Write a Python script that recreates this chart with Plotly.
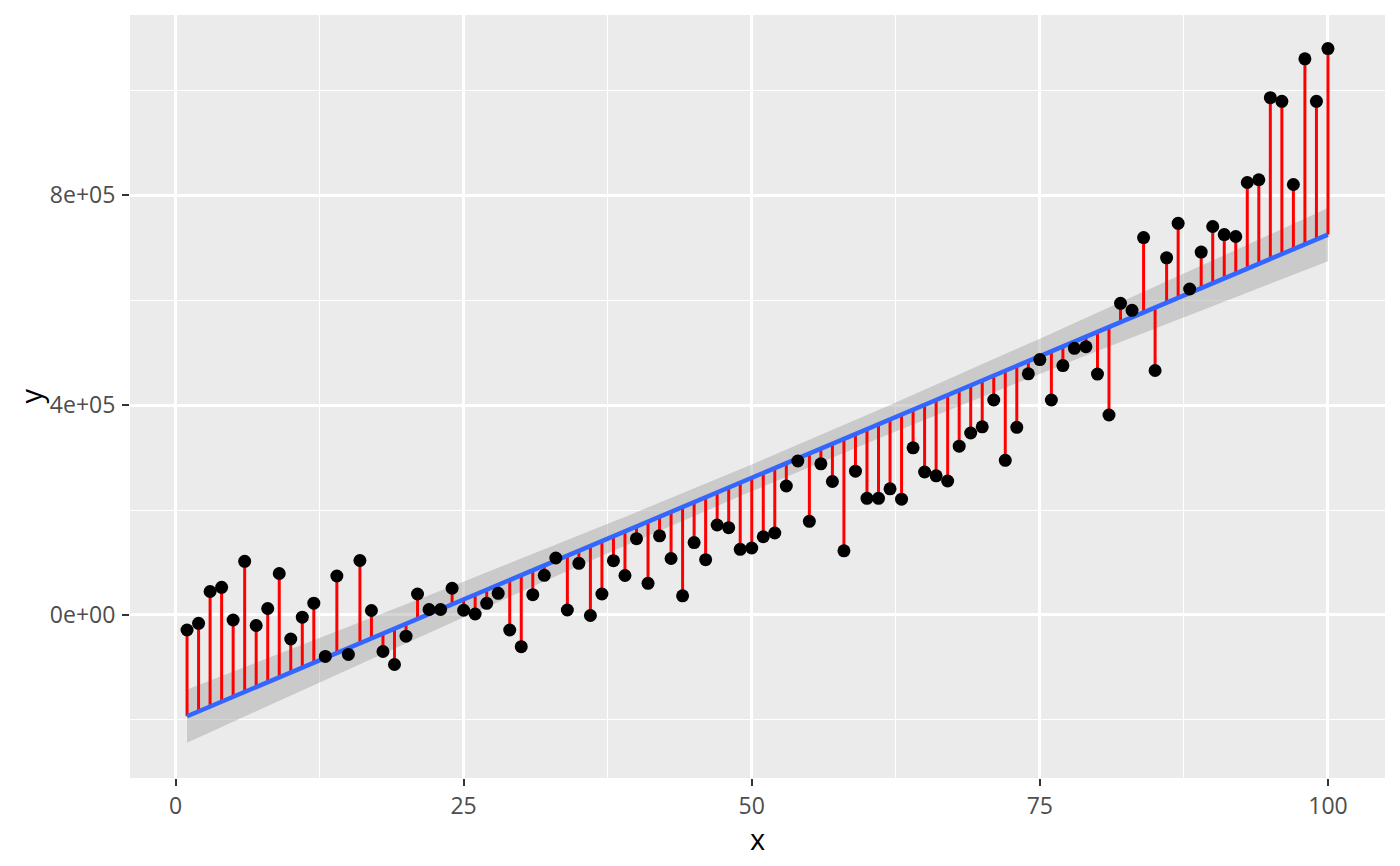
"""Residuals from a linear fit, ggplot-like styling"""

import numpy as np
import plotly.graph_objects as go

x = list(range(1, 101))
y = [
    -28600, -15800, 44800, 52800, -9500, 102300, -20000, 12400, 79000, -45700,
    -4200, 22500, -79000, 74300, -75200, 103800, 8600, -69500, -94300, -40400,
    40000, 10500, 10500, 50900, 9000, 1900, 22300, 41300, -28600, -60400,
    38700, 75600, 108600, 9500, 98500, -1000, 40000, 103400, 75200, 145300,
    60400, 150900, 107600, 36600, 137900, 105300, 171400, 166300, 125100, 127600,
    149000, 156200, 245700, 293300, 178500, 288000, 254300, 122300, 273900, 222300,
    222300, 240400, 220600, 318500, 272400, 265100, 255200, 321500, 346700, 358500,
    409500, 294700, 357500, 459400, 486500, 409500, 475200, 508000, 511000, 459000,
    381000, 593700, 580400, 719000, 465700, 680400, 746100, 621000, 691400, 740000,
    724600, 721000, 823800, 829100, 985500, 978500, 820000, 1059400, 978500, 1079000,
]

x_ticks = [0, 25, 50, 75, 100]
y_ticks = [0, 400000, 800000]
y_tick_labels = ["0e+00", "4e+05", "8e+05"]

# linear model + 95% confidence band (like geom_smooth(method = "lm"))
xa = np.array(x, dtype=float)
ya = np.array(y, dtype=float)
slope, intercept = np.polyfit(xa, ya, 1)
fitted = intercept + slope * xa
n = len(xa)
s = np.sqrt(np.sum((ya - fitted) ** 2) / (n - 2))
se = s * np.sqrt(1 / n + (xa - xa.mean()) ** 2 / np.sum((xa - xa.mean()) ** 2))
t = 1.9845  # qt(0.975, 98)
upper = fitted + t * se
lower = fitted - t * se

seg_x, seg_y = [], []
for xi, fi, yi in zip(x, fitted, y):
    seg_x += [xi, xi, None]
    seg_y += [fi, yi, None]

fig = go.Figure()

fig.add_trace(
    go.Scatter(
        x=list(xa) + list(xa[::-1]),
        y=list(upper) + list(lower[::-1]),
        fill="toself",
        fillcolor="rgba(153,153,153,0.4)",
        line=dict(width=0),
        hoverinfo="skip",
        showlegend=False,
    )
)
fig.add_trace(
    go.Scatter(
        x=seg_x,
        y=seg_y,
        mode="lines",
        line=dict(color="red", width=3),
        showlegend=False,
    )
)
fig.add_trace(
    go.Scatter(
        x=x,
        y=fitted,
        mode="lines",
        line=dict(color="#3366FF", width=4.5),
        showlegend=False,
    )
)
fig.add_trace(
    go.Scatter(
        x=x,
        y=y,
        mode="markers",
        marker=dict(color="black", size=13),
        showlegend=False,
    )
)

# page body has an 8px margin, so the figure is a bit smaller than the window
fig.update_layout(
    width=1392,
    height=858,
    margin=dict(l=122, r=15, t=7, b=88),
    paper_bgcolor="white",
    plot_bgcolor="#EBEBEB",
    font=dict(family="Open Sans, Noto Sans, sans-serif"),
    showlegend=False,
)
fig.update_xaxes(
    range=[-3.95, 104.95],
    tickvals=x_ticks,
    ticks="outside",
    ticklen=7,
    tickwidth=2,
    tickcolor="#333333",
    ticklabelstandoff=0,
    tickfont=dict(size=23, color="#4D4D4D"),
    gridcolor="white",
    gridwidth=2.5,
    zeroline=False,
    showline=False,
    minor=dict(tickvals=[12.5, 37.5, 62.5, 87.5], showgrid=True, gridcolor="white", gridwidth=1.2),
)
fig.update_yaxes(
    range=[-310500, 1142900],
    tickvals=y_ticks,
    ticktext=y_tick_labels,
    ticks="outside",
    ticklen=7,
    tickwidth=2,
    tickcolor="#333333",
    ticklabelstandoff=2,
    tickfont=dict(size=23, color="#4D4D4D"),
    gridcolor="white",
    gridwidth=2.5,
    zeroline=False,
    showline=False,
    minor=dict(tickvals=[-200000, 200000, 600000, 1000000], showgrid=True, gridcolor="white", gridwidth=1.2),
)

# axis titles as annotations so they sit where ggplot puts them
fig.add_annotation(
    text="x", xref="paper", yref="paper", x=0.5, y=0,
    yanchor="middle", yshift=-60, showarrow=False,
    font=dict(size=29, color="black"),
)
fig.add_annotation(
    text="y", xref="paper", yref="paper", x=0, y=0.5,
    xanchor="center", xshift=-100, textangle=-90, showarrow=False,
    font=dict(size=29, color="black"),
)

fig.write_html("out.html")
